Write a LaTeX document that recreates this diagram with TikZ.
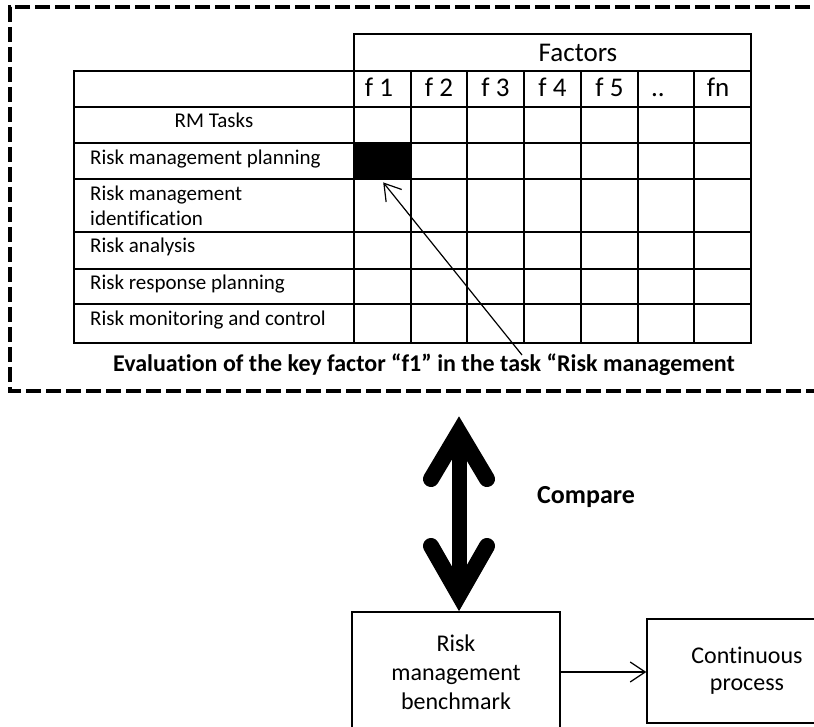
\documentclass[tikz,border=0pt]{standalone}
\usepackage{fontspec}
\setmainfont{Carlito}[Ligatures=NoCommon]
\usetikzlibrary{arrows.meta}
\begin{document}
\begin{tikzpicture}[x=1pt,y=-1pt,
  grid/.style={line width=2.8pt, line cap=rect},
  frame/.style={line width=4pt, dash pattern=on 15pt off 5pt},
  rowlabel/.style={font=\fontsize{21}{25}\selectfont, anchor=base west, inner sep=0pt, align=left},
  headlabel/.style={font=\fontsize{27}{32}\selectfont, anchor=base, inner sep=0pt},
  boldlabel/.style={font=\bfseries\fontsize{24}{28}\selectfont, anchor=base, inner sep=0pt},
  procbox/.style={draw, line width=1.3pt, align=center, inner sep=0pt},
  thinarrow/.style={line width=1.2pt, -{Straight Barb[length=16pt, width=20pt]}},
  bigstroke/.style={line width=16pt, line join=miter, miter limit=10, line cap=round}
]
\useasboundingbox (0,0) rectangle (814,727);
\clip (0,0) rectangle (814,727);

% dashed frame around the evaluation matrix (open on the right)
\draw[frame] (850,7.5) -- (9.5,7.5) -- (9.5,390.5) -- (850,390.5);

% highlighted cell: factor f1 / risk management planning
\node[fill=black, minimum width=57pt, minimum height=36pt, inner sep=0pt, anchor=north west] (hit) at (354,143) {};

% matrix grid
\draw[grid] (354,34) -- (751,34);
\foreach \yy in {71,107,143,179,232,269,304,343}
  \draw[grid] (74,\yy) -- (751,\yy);
\draw[grid] (74,71) -- (74,343);
\draw[grid] (354,34) -- (354,343);
\draw[grid] (751,34) -- (751,343);
\foreach \xx in {411,467,524,581,638,694}
  \draw[grid] (\xx,71) -- (\xx,343);

% header texts
\node[headlabel] (factors) at (578,61.7) {Factors};
\node[headlabel] (h1) at (379,97) {f 1};
\node[headlabel] (h2) at (439,97) {f 2};
\node[headlabel] (h3) at (495.5,97) {f 3};
\node[headlabel] (h4) at (552.5,97) {f 4};
\node[headlabel] (h5) at (609.5,97) {f 5};
\node[headlabel] (h6) at (658,97) {..};
\node[headlabel] (h7) at (718,97) {fn};

% task labels
\node[rowlabel, anchor=base] (rmtasks) at (214,128) {RM Tasks};
\node[rowlabel] (t1) at (90,165) {Risk management planning};
\node[rowlabel] (t2a) at (90,200.7) {Risk management};
\node[rowlabel] (t2b) at (90,225.7) {identification};
\node[rowlabel] (t3) at (90,252.7) {Risk analysis};
\node[rowlabel] (t4) at (90,290) {Risk response planning};
\node[rowlabel] (t5) at (90,325.7) {Risk monitoring and control};

% caption and pointer to the highlighted cell
\node[boldlabel] (caption) at (424,371) {Evaluation of the key factor “f1” in the task “Risk management};
\coordinate (ptr) at (522,355);
\draw[thinarrow] (ptr) -- ([xshift=0.5pt,yshift=-3pt]hit.south);

% lower part: benchmark and continuous process
\node[procbox, minimum width=208pt, minimum height=120pt, font=\fontsize{24}{29}\selectfont] (bench) at (456,672) {Risk\\management\\benchmark};
\node[procbox, minimum width=200pt, minimum height=104pt, font=\fontsize{24}{27}\selectfont] (cont) at (747,671) {Continuous\\process};
\draw[line width=1.3pt, -{Straight Barb[length=15pt, width=20pt]}] (bench.east) -- (bench.east -| cont.west);

% double-headed compare arrow
\coordinate (ctop) at (459,432);
\coordinate (cbot) at (459,595);
\begin{scope}[gray!25, shift={(3,3)}]
  \draw[line width=15pt] ([shift={(0,8)}]ctop) -- ([shift={(0,-8)}]cbot);
  \draw[bigstroke] ([shift={(-28,47)}]ctop) -- (ctop) -- ([shift={(28,47)}]ctop);
  \draw[bigstroke] ([shift={(-28,-49)}]cbot) -- (cbot) -- ([shift={(28,-49)}]cbot);
\end{scope}
\draw[line width=15pt] ([shift={(0,8)}]ctop) -- ([shift={(0,-8)}]cbot);
\draw[bigstroke] ([shift={(-28,47)}]ctop) -- (ctop) -- ([shift={(28,47)}]ctop);
\draw[bigstroke] ([shift={(-28,-49)}]cbot) -- (cbot) -- ([shift={(28,-49)}]cbot);
\node[boldlabel, anchor=base west, font=\bfseries\fontsize{26}{31}\selectfont] (cmp) at (537,503) {Compare};
\end{tikzpicture}
\end{document}
